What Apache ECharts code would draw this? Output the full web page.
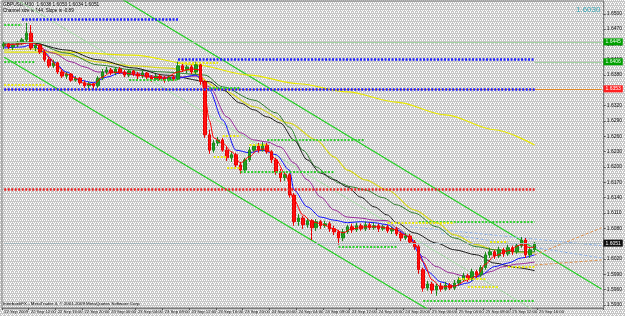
<!DOCTYPE html>
<html>
<head>
<meta charset="utf-8">
<script src="https://cdn.jsdelivr.net/npm/echarts@6/dist/echarts.min.js"></script>
<style>
  html, body { margin: 0; padding: 0; }
  #chart { width: 625px; height: 316px; }
</style>
</head>
<body>
<div id="chart"></div>
<script>
// GBPUSD M30
const timeLabels = ["22 Sep 2009", "22 Sep 12:00", "22 Sep 16:00", "22 Sep 20:00", "23 Sep 00:00",
  "23 Sep 04:00", "23 Sep 08:00", "23 Sep 12:00", "23 Sep 16:00", "23 Sep 20:00", "24 Sep 00:00",
  "24 Sep 04:00", "24 Sep 08:00", "24 Sep 12:00", "24 Sep 16:00", "24 Sep 20:00", "25 Sep 00:00",
  "25 Sep 04:00", "25 Sep 08:00", "25 Sep 12:00", "25 Sep 16:00"];

const opens = [1.6437,1.6441,1.6435,1.6439,1.6443,1.6449,1.6462,1.6433,1.6439,1.6425,
  1.6410,1.6398,1.6404,1.6386,1.6378,1.6382,1.6370,1.6374,1.6365,1.6359,
  1.6363,1.6359,1.6374,1.6386,1.6390,1.6384,1.6392,1.6386,1.6380,1.6388,
  1.6382,1.6378,1.6384,1.6376,1.6372,1.6378,1.6374,1.6370,1.6376,1.6372,
  1.6398,1.6390,1.6396,1.6386,1.6400,1.6367,1.6263,1.6233,1.6247,1.6253,
  1.6233,1.6218,1.6224,1.6204,1.6194,1.6214,1.6233,1.6241,1.6233,1.6243,
  1.6230,1.6214,1.6190,1.6179,1.6185,1.6145,1.6093,1.6100,1.6087,1.6095,
  1.6081,1.6093,1.6085,1.6089,1.6079,1.6073,1.6061,1.6073,1.6083,1.6077,
  1.6085,1.6079,1.6087,1.6081,1.6085,1.6079,1.6083,1.6075,1.6079,1.6069,
  1.6061,1.6065,1.6053,1.6044,1.5999,1.5963,1.5971,1.5959,1.5967,1.5961,
  1.5969,1.5963,1.5973,1.5979,1.5987,1.5981,1.5995,1.5989,1.6003,1.6028,
  1.6034,1.6026,1.6038,1.6030,1.6042,1.6034,1.6046,1.6057,1.6028,1.6038];
const closes = [1.6441,1.6435,1.6439,1.6443,1.6449,1.6462,1.6433,1.6439,1.6425,1.6410,
  1.6398,1.6404,1.6386,1.6378,1.6382,1.6370,1.6374,1.6365,1.6359,1.6363,
  1.6359,1.6374,1.6386,1.6390,1.6384,1.6392,1.6386,1.6380,1.6388,1.6382,
  1.6378,1.6384,1.6376,1.6372,1.6378,1.6374,1.6370,1.6376,1.6372,1.6398,
  1.6390,1.6396,1.6386,1.6400,1.6367,1.6263,1.6233,1.6247,1.6253,1.6233,
  1.6218,1.6224,1.6204,1.6194,1.6214,1.6233,1.6241,1.6233,1.6243,1.6230,
  1.6214,1.6190,1.6179,1.6185,1.6145,1.6093,1.6100,1.6087,1.6095,1.6081,
  1.6093,1.6085,1.6089,1.6079,1.6073,1.6061,1.6073,1.6083,1.6077,1.6085,
  1.6079,1.6087,1.6081,1.6085,1.6079,1.6083,1.6075,1.6079,1.6069,1.6061,
  1.6065,1.6053,1.6044,1.5999,1.5963,1.5971,1.5959,1.5967,1.5961,1.5969,
  1.5963,1.5973,1.5979,1.5987,1.5981,1.5995,1.5989,1.6003,1.6028,1.6034,
  1.6026,1.6038,1.6030,1.6042,1.6034,1.6046,1.6057,1.6028,1.6038,1.6051];
const lows = [1.6431,1.6431,1.6429,1.6435,1.6439,1.6445,1.6429,1.6427,1.6421,1.6406,
  1.6394,1.6394,1.6382,1.6374,1.6372,1.6367,1.6367,1.6361,1.6355,1.6353,
  1.6351,1.6355,1.6370,1.6382,1.6380,1.6380,1.6382,1.6376,1.6376,1.6378,
  1.6372,1.6374,1.6372,1.6367,1.6369,1.6370,1.6365,1.6367,1.6369,1.6370,
  1.6386,1.6384,1.6382,1.6382,1.6361,1.6257,1.6226,1.6228,1.6241,1.6230,
  1.6212,1.6210,1.6198,1.6187,1.6190,1.6210,1.6230,1.6228,1.6230,1.6226,
  1.6208,1.6185,1.6171,1.6173,1.6140,1.6085,1.6085,1.6079,1.6081,1.6057,
  1.6075,1.6079,1.6081,1.6073,1.6067,1.6048,1.6055,1.6069,1.6071,1.6073,
  1.6075,1.6075,1.6077,1.6077,1.6073,1.6075,1.6071,1.6069,1.6065,1.6055,
  1.6057,1.6050,1.6038,1.5991,1.5956,1.5958,1.5952,1.5948,1.5956,1.5958,
  1.5959,1.5959,1.5967,1.5975,1.5975,1.5977,1.5983,1.5985,1.5999,1.6022,
  1.6020,1.6022,1.6024,1.6026,1.6028,1.6030,1.6042,1.6022,1.6022,1.6034];
const highs = [1.6445,1.6443,1.6441,1.6447,1.6453,1.6482,1.6478,1.6443,1.6441,1.6429,
  1.6414,1.6410,1.6406,1.6390,1.6386,1.6384,1.6378,1.6376,1.6369,1.6367,
  1.6365,1.6378,1.6392,1.6396,1.6394,1.6396,1.6396,1.6390,1.6392,1.6390,
  1.6386,1.6388,1.6386,1.6380,1.6382,1.6382,1.6378,1.6380,1.6380,1.6406,
  1.6402,1.6400,1.6400,1.6406,1.6404,1.6370,1.6273,1.6253,1.6259,1.6257,
  1.6239,1.6230,1.6228,1.6210,1.6218,1.6239,1.6245,1.6247,1.6249,1.6247,
  1.6233,1.6218,1.6196,1.6190,1.6188,1.6149,1.6108,1.6104,1.6100,1.6098,
  1.6098,1.6096,1.6095,1.6093,1.6085,1.6077,1.6079,1.6087,1.6089,1.6091,
  1.6089,1.6093,1.6091,1.6091,1.6089,1.6087,1.6087,1.6083,1.6083,1.6073,
  1.6071,1.6069,1.6057,1.6048,1.6003,1.5977,1.5975,1.5971,1.5973,1.5975,
  1.5973,1.5979,1.5985,1.5993,1.5991,1.6001,1.5999,1.6008,1.6034,1.6042,
  1.6038,1.6044,1.6042,1.6048,1.6046,1.6051,1.6063,1.6061,1.6044,1.6053];

// moving averages, [bar index, price]
const maRed = [[0,1.6439],[4,1.6441],[6,1.6445],[8,1.6437],[10,1.6415],[12,1.6396],[14,1.6382],[16,1.6374],
  [18,1.6363],[20,1.6361],[22,1.6376],[24,1.6386],[27,1.6384],[30,1.6380],[33,1.6376],[36,1.6374],[39,1.6386],
  [42,1.6392],[44,1.6390],[45,1.6341],[46,1.6292],[47,1.6257],[49,1.6247],[51,1.6230],[53,1.6208],[55,1.6220],
  [57,1.6235],[59,1.6235],[61,1.6214],[63,1.6187],[65,1.6136],[67,1.6106],[69,1.6093],[71,1.6089],[74,1.6079],
  [76,1.6071],[78,1.6079],[81,1.6083],[84,1.6083],[87,1.6079],[90,1.6067],[92,1.6051],[94,1.6014],[96,1.5979],
  [98,1.5965],[101,1.5967],[104,1.5979],[106,1.5987],[108,1.6010],[110,1.6026],[113,1.6036],[116,1.6048],
  [118,1.6042],[119,1.6044]];
const maBlue = [[0,1.6433],[4,1.6435],[6,1.6439],[9,1.6425],[11,1.6406],[14,1.6386],[17,1.6370],[20,1.6365],
  [23,1.6376],[26,1.6384],[30,1.6380],[35,1.6374],[39,1.6374],[43,1.6380],[46,1.6351],[49,1.6292],[52,1.6233],
  [55,1.6228],[58,1.6233],[61,1.6224],[64,1.6194],[65,1.6155],[68,1.6122],[71,1.6102],[74,1.6096],[77,1.6091],
  [80,1.6093],[83,1.6091],[86,1.6087],[88,1.6077],[91,1.6063],[93,1.6032],[95,1.5995],[98,1.5975],[101,1.5967],
  [104,1.5973],[107,1.5989],[110,1.6005],[113,1.6012],[116,1.6022],[119,1.6028]];
const maPurple = [[0,1.6435],[6,1.6443],[11,1.6423],[15,1.6406],[18,1.6396],[21,1.6386],[26,1.6386],[30,1.6384],
  [35,1.6376],[39,1.6376],[43,1.6378],[46,1.6357],[50,1.6298],[53,1.6267],[56,1.6253],[59,1.6249],[62,1.6239],
  [65,1.6208],[68,1.6175],[71,1.6141],[74,1.6116],[77,1.6102],[80,1.6100],[83,1.6096],[86,1.6095],[88,1.6081],
  [91,1.6063],[94,1.6024],[97,1.6005],[100,1.5993],[103,1.5987],[106,1.5985],[109,1.5995],[112,1.6005],
  [115,1.6010],[119,1.6014]];
const maBlack = [[0,1.6443],[6,1.6443],[14,1.6429],[21,1.6410],[29,1.6394],[36,1.6380],[46,1.6367],[49,1.6351],
  [53,1.6325],[56,1.6312],[59,1.6298],[62,1.6286],[65,1.6253],[68,1.6214],[71,1.6188],[74,1.6175],[77,1.6161],
  [80,1.6141],[83,1.6122],[86,1.6106],[88,1.6091],[92,1.6071],[97,1.6051],[101,1.6038],[106,1.6028],[110,1.6012],
  [115,1.6003],[119,1.5997]];
const maDarkGreen = [[0,1.6443],[6,1.6445],[14,1.6423],[21,1.6400],[29,1.6390],[36,1.6386],[45,1.6380],[49,1.6357],
  [56,1.6331],[61,1.6306],[64,1.6278],[67,1.6233],[70,1.6200],[73,1.6181],[75,1.6169],[78,1.6161],[81,1.6155],
  [85,1.6140],[88,1.6126],[92,1.6110],[97,1.6083],[101,1.6061],[106,1.6044],[110,1.6038],[115,1.6034],[119,1.6034]];
const maYellow = [[0,1.6429],[6,1.6431],[14,1.6419],[21,1.6406],[29,1.6398],[36,1.6394],[41,1.6390],[49,1.6351],
  [56,1.6318],[64,1.6286],[70,1.6253],[74,1.6220],[77,1.6194],[81,1.6175],[86,1.6155],[92,1.6116],[97,1.6091],
  [101,1.6067],[106,1.6048],[110,1.6038],[115,1.6034],[119,1.6032]];
const maSlow = [[0,1.6425],[14,1.6425],[29,1.6419],[43,1.6400],[55,1.6380],[66,1.6363],[77,1.6347],[88,1.6327],
  [99,1.6302],[110,1.6273],[119,1.6243]];

// regression channel, [bar index, price] at both ends
const channelUpper = [[0,1.6668],[134,1.5961]];
const channelMid = [[0,1.6542],[134,1.5840]];
const channelLower = [[0,1.6415],[134,1.5719]];

// horizontal levels: [from bar, to bar, price]
const blueLevels = [[4,39,1.6490],[39,119,1.6410],[0,119,1.6353]];
const redLevels = [[0,119,1.6157]];
const greenLevels = [[0,4,1.6478],[0,7,1.6406],[28,39,1.6370],[46,53,1.6355],[59,81,1.6253],[53,74,1.6190],
  [93,119,1.6093],[75,88,1.6044],[94,119,1.5938]];
const yellowLevels = [[39,48,1.6404],[0,9,1.6361],[49,53,1.6261],[55,59,1.6243],[47,50,1.6220],[50,53,1.6198],
  [86,101,1.6091],[109,113,1.6053],[113,119,1.6005],[102,108,1.5981],[104,111,1.5965]];

// projections on the right: [[from bar, price], [to bar, price]]
const projOrange = [[[119,1.6028],[134,1.6081]], [[119,1.6008],[134,1.6018]]];
const projBlue = [[[91,1.6083],[134,1.6046]], [[98,1.6071],[134,1.6022]]];

const priceTicks = [1.5930,1.5960,1.5990,1.6020,1.6050,1.6080,1.6110,1.6140,1.6170,1.6200,
  1.6230,1.6260,1.6290,1.6320,1.6350,1.6380,1.6410,1.6440,1.6470,1.6500];
const lineTop = 1.6445;
const lineMid = 1.6406;
const lineRed = 1.6353;
const bidPrice = 1.6051;

const barCount = 135;
const categories = Array.from({ length: barCount }, (_, i) => String(i));

// dithered silver background like the gif
const pat = document.createElement("canvas");
pat.width = 4; pat.height = 4;
const pc = pat.getContext("2d");
pc.fillStyle = "#c6c6c6";
pc.fillRect(0, 0, 4, 4);
pc.fillStyle = "#ffffff";
[[0, 0], [2, 0], [1, 2], [3, 2], [2, 3]].forEach(([x, y]) => pc.fillRect(x, y, 1, 1));
document.body.style.background = "url(" + pat.toDataURL() + ")";

const FONT = "Liberation Sans";

function segments(levels) {
  return levels.map(([a, b, p]) => [{ coord: [a, p] }, { coord: [b, p] }]);
}

function levelSeries(levels, color, width, dash) {
  return {
    type: "line", data: [], silent: true, z: 1,
    markLine: {
      silent: true, symbol: "none", animation: false,
      label: { show: false },
      lineStyle: { color: color, width: width, type: dash, opacity: 1 },
      emphasis: { disabled: true },
      data: segments(levels),
    },
  };
}

function maSeries(data, color, width, z) {
  return {
    type: "line", data: data, symbol: "none", silent: true, z: z || 3,
    smooth: 0.3, smoothMonotone: "x",
    lineStyle: { color: color, width: width || 1 },
  };
}

function straight(data, color, width, dash) {
  return {
    type: "line", data: data, symbol: "none", silent: true, z: 2,
    lineStyle: { color: color, width: width, type: dash || "solid" },
  };
}

// a horizontal line from bar a to bar b with its price tag on the axis
function taggedLine(a, b, price, color, bg, fg) {
  return [
    {
      coord: [a, price],
      lineStyle: { color: color, width: 1, type: "solid" },
      label: {
        show: true, position: "end", distance: 2,
        fontSize: 5, fontFamily: FONT, color: fg,
        backgroundColor: bg, padding: [1, 2],
        formatter: price.toFixed(4),
      },
    },
    { coord: [b, price] },
  ];
}

const chart = echarts.init(document.getElementById("chart"));

const option = {
  animation: false,
  backgroundColor: "transparent",
  grid: { left: 2, right: 16, top: 1, bottom: 8, show: true, borderColor: "#7c7c7c", borderWidth: 1 },
  xAxis: {
    type: "category",
    data: categories,
    boundaryGap: true,
    axisLine: { show: true, lineStyle: { color: "#7c7c7c" } },
    axisTick: {
      show: true, length: 2, lineStyle: { color: "#555" },
      interval: (i) => i % 6 === 0 && i / 6 < timeLabels.length,
    },
    axisLabel: {
      margin: 2, fontSize: 4.2, fontFamily: FONT, color: "#111", align: "left",
      interval: (i) => i % 6 === 0 && i / 6 < timeLabels.length,
      formatter: (v, i) => timeLabels[i / 6] || "",
    },
    splitLine: { show: false },
  },
  yAxis: {
    type: "value",
    position: "right",
    min: 1.5924,
    max: 1.6525,
    axisLine: { show: true, lineStyle: { color: "#7c7c7c" } },
    axisTick: { show: true, length: 2, customValues: priceTicks, lineStyle: { color: "#555" } },
    axisLabel: {
      margin: 3, fontSize: 5, fontFamily: FONT, color: "#111",
      customValues: priceTicks,
      formatter: (v) => v.toFixed(4),
    },
    splitLine: { show: false },
  },
  graphic: [
    { type: "text", left: 3, top: 2, silent: true,
      style: { text: "GBPUSD,M30  1.6038 1.6053 1.6034 1.6051", font: "4.8px " + FONT, fill: "#000" } },
    { type: "text", left: 3, top: 8, silent: true,
      style: { text: "Channel size is 144, Slope is -0.89", font: "4.6px " + FONT, fill: "#000" } },
    { type: "text", left: 576, top: 6, silent: true,
      style: { text: "1.6030", font: "8px " + FONT, fill: "#3aa6b4" } },
    { type: "text", left: 3, top: 302, silent: true,
      style: { text: "InterbankFX - MetaTrader 4, \u00a9 2001-2009 MetaQuotes Software Corp.", font: "4.4px " + FONT, fill: "#000" } },
  ],
  series: [
    // horizontal lines with price tags on the axis
    {
      type: "line", data: [], silent: true, z: 1,
      markLine: {
        silent: true, symbol: "none", animation: false,
        emphasis: { disabled: true },
        data: [
          taggedLine(0, 134, lineTop, "#a2d2a2", "#00a000", "#e8ffe8"),
          taggedLine(0, 134, lineRed, "#e08a2a", "#ff2020", "#ffffff"),
          taggedLine(0, 134, bidPrice, "#a6b6bc", "#101010", "#ffffff"),
          taggedLine(119, 134, lineMid, "#a2d2a2", "#00a000", "#e8ffe8"),
        ],
      },
    },
    levelSeries(blueLevels, "#1a1aff", 2.5, [2, 1.5]),
    levelSeries(redLevels, "#e82020", 2.5, [2, 1.5]),
    levelSeries(greenLevels, "#30d030", 2, [2, 1.5]),
    levelSeries(yellowLevels, "#eaea10", 2, [2, 1.5]),

    straight(channelUpper, "#22d022", 1.2),
    straight(channelLower, "#22d022", 1.2),
    straight(channelMid, "#a8dca8", 1),
    straight(projOrange[0], "#e0904a", 1, [3, 2]),
    straight(projOrange[1], "#e0904a", 1, [3, 2]),
    straight(projBlue[0], "#90b4e8", 1, [3, 2]),
    straight(projBlue[1], "#90b4e8", 1, [3, 2]),

    {
      type: "candlestick",
      data: opens.map((o, i) => [o, closes[i], lows[i], highs[i]]),
      barWidth: 3,
      silent: true,
      z: 3,
      itemStyle: {
        color: "#20a020", color0: "#ff1010",
        borderColor: "#1a8a1a", borderColor0: "#e80000",
        borderWidth: 1,
      },
    },

    maSeries(maSlow, "#e8e800", 1.2),
    maSeries(maYellow, "#d8d820", 1.2),
    maSeries(maDarkGreen, "#2f7f2f", 1),
    maSeries(maBlack, "#1a1a1a", 1),
    maSeries(maPurple, "#9a2a9a", 1),
    maSeries(maBlue, "#1010ff", 1),
    maSeries(maRed, "#ff0000", 1, 4),
  ],
};

chart.setOption(option);
</script>
</body>
</html>
